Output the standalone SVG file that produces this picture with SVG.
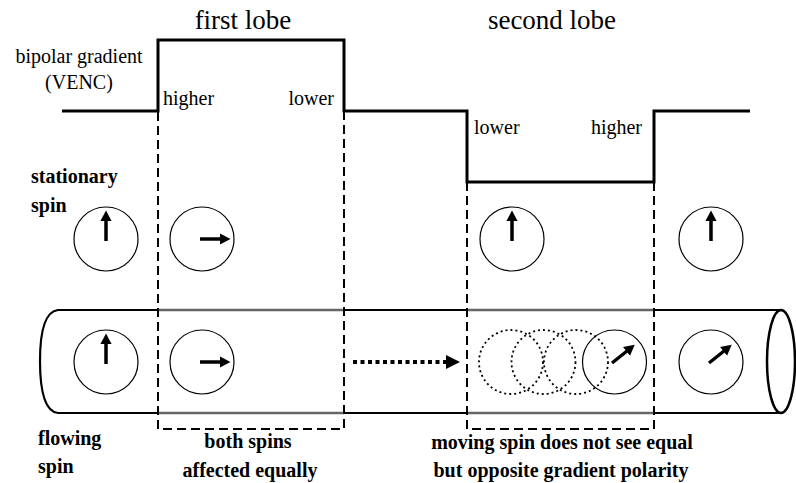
<svg xmlns="http://www.w3.org/2000/svg" width="796" height="483" viewBox="0 0 796 483">
<defs>
<marker id="ah" markerWidth="4" markerHeight="4" refX="2" refY="2" orient="auto" markerUnits="strokeWidth">
<path d="M0,0.4 L3,2 L0,3.6 Z" fill="#000"/>
</marker>
</defs>
<rect width="796" height="483" fill="#fff"/>

<g id="gradient">
<path d="M62,111 H158 V40 H344 V111 H467 V182 H654 V111 H750" fill="none" stroke="#000" stroke-width="3"/>
<g font-size="27" fill="#000">
<text x="243" y="29" font-family="Times New Roman" text-anchor="middle">first lobe</text>
<text x="552" y="29" font-family="Times New Roman" text-anchor="middle">second lobe</text>
</g>
<g font-size="20" fill="#000">
<text x="79" y="63" font-family="Times New Roman" text-anchor="middle">bipolar gradient</text>
<text x="79" y="89" font-family="Times New Roman" text-anchor="middle">(VENC)</text>
<text x="163" y="105" font-family="Times New Roman">higher</text>
<text x="334" y="105" font-family="Times New Roman" text-anchor="end">lower</text>
<text x="474" y="134" font-family="Times New Roman">lower</text>
<text x="642" y="134" font-family="Times New Roman" text-anchor="end">higher</text>
</g>
</g>

<g id="tube">
<path d="M158,310 H58 Q40,312 40,361 Q40,411 58,413 H158" fill="none" stroke="#000" stroke-width="2.2"/>
<path d="M158,310 H344 M158,413 H344 M467,310 H654 M467,413 H654" stroke="#666" stroke-width="2.5"/>
<path d="M344,310 H467 M344,413 H467 M654,310 H781 M654,413 H781" stroke="#000" stroke-width="2.2"/>
<ellipse cx="781" cy="361.5" rx="14" ry="51.5" fill="none" stroke="#000" stroke-width="2.5"/>
</g>

<g id="windows" fill="none" stroke="#000" stroke-width="2" stroke-dasharray="9 5">
<path d="M158,112 V429 H344 V112"/>
<path d="M467,182 V429 H654 V182"/>
</g>

<g id="labels" font-size="20" font-weight="bold" fill="#000">
<text x="31" y="183" font-family="Times New Roman">stationary</text>
<text x="31" y="212" font-family="Times New Roman">spin</text>
<text x="38" y="445" font-family="Times New Roman">flowing</text>
<text x="38" y="473" font-family="Times New Roman">spin</text>
<text x="248" y="448" font-family="Times New Roman" text-anchor="middle">both spins</text>
<text x="250" y="477" font-family="Times New Roman" text-anchor="middle">affected equally</text>
<text x="562" y="449" font-family="Times New Roman" text-anchor="middle">moving spin does not see equal</text>
<text x="561" y="477" font-family="Times New Roman" text-anchor="middle">but opposite gradient polarity</text>
</g>

<g id="stationary-spins">
<g fill="none" stroke="#000" stroke-width="1.2">
<circle cx="106" cy="239" r="32"/>
<circle cx="202" cy="239" r="32"/>
<circle cx="512" cy="239" r="32"/>
<circle cx="711" cy="239" r="32"/>
</g>
<g stroke="#000" stroke-width="3.5" marker-end="url(#ah)">
<line x1="106" y1="241" x2="106" y2="214"/>
<line x1="200" y1="239" x2="227" y2="239"/>
<line x1="512" y1="241" x2="512" y2="214"/>
<line x1="711" y1="241" x2="711" y2="214"/>
</g>
</g>

<g id="flowing-spins">
<g fill="none" stroke="#000" stroke-width="1.2">
<circle cx="106" cy="362" r="32"/>
<circle cx="202" cy="362" r="32"/>
<circle cx="614.5" cy="362" r="32"/>
<circle cx="711" cy="362" r="32"/>
</g>
<g fill="none" stroke="#000" stroke-width="1.8" stroke-dasharray="2 3">
<circle cx="511" cy="362" r="32"/>
<circle cx="543.5" cy="362" r="32"/>
<circle cx="576" cy="362" r="32"/>
</g>
<g stroke="#000" stroke-width="3.5" marker-end="url(#ah)">
<line x1="106" y1="364" x2="106" y2="337"/>
<line x1="200" y1="362" x2="227" y2="362"/>
<line x1="612" y1="363" x2="632" y2="347"/>
<line x1="709" y1="363" x2="729" y2="347"/>
</g>
</g>

<g id="connectors">
<line x1="353" y1="362" x2="447" y2="362" stroke="#000" stroke-width="4" stroke-dasharray="4 3.5"/>
<path d="M446,355 L460,362 L446,369 Z" fill="#000"/>
</g>
</svg>
